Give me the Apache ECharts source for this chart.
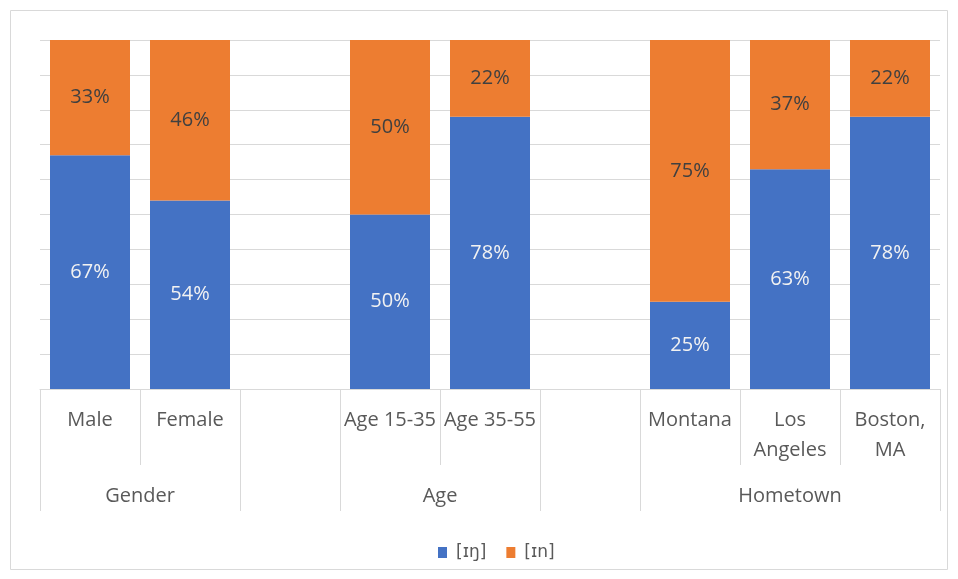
<!DOCTYPE html>
<html>

	<head>
		<meta charset="utf-8">
		<title>[ɪŋ] / [ɪn]</title>
		<style>
			body {
				margin: 0;
				background: #fff;
			}
		</style>
	</head>

	<body>
		<div id="chart" style="width: 958px; height: 579px;"></div>

		<script src="https://cdn.jsdelivr.net/npm/echarts@6/dist/echarts.min.js"></script>
		<script>
			// 类别（空字符串为分组之间的空位）
			var categories = ['Male', 'Female', '', 'Age 15-35', 'Age 35-55', '', 'Montana', 'Los\nAngeles', 'Boston,\nMA'];
			// 分组名称及其在类别轴上的中心位置
			var groupNames = ['Gender', 'Age', 'Hometown'];
			var groupCenters = [1, 4, 7.5];
			// 分组边界（长线）和组内边界（短线）
			var groupEdges = [0, 2, 3, 5, 6, 9];
			var innerEdges = [1, 4, 7, 8];
			var seriesNames = ['[ɪŋ]', '[ɪn]'];
			var ingValues = [67, 54, null, 50, 78, null, 25, 63, 78];
			var inValues = [33, 46, null, 50, 22, null, 75, 37, 22];

			var font = '"Open Sans", "DejaVu Sans", sans-serif';
			var gray = '#d9d9d9';

			// 只画刻度线的辅助轴
			function edgeAxis(values, len, labels, labelMargin) {
				return {
					type: 'value',
					position: 'bottom',
					min: 0,
					max: 9,
					axisLine: { show: false },
					splitLine: { show: false },
					axisTick: {
						customValues: values,
						length: len,
						lineStyle: { color: gray }
					},
					axisLabel: labels ? {
						customValues: groupCenters,
						margin: labelMargin,
						color: '#595959',
						fontSize: 20,
						formatter: function(v) {
							var i = groupCenters.indexOf(v);
							return i >= 0 ? groupNames[i] : '';
						}
					} : { show: false }
				};
			}

			var Chart = echarts.init(document.getElementById('chart'));
			var option = {
				animation: false,
				textStyle: {
					fontFamily: font
				},
				color: ['#4472C4', '#ED7D31'],
				graphic: [{
					type: 'rect',
					shape: { x: 10.5, y: 10.5, width: 937, height: 559 },
					style: { fill: 'none', stroke: gray, lineWidth: 1 },
					silent: true
				}],
				grid: {
					left: 40,
					right: 18,
					top: 40,
					bottom: 190
				},
				legend: {
					top: 539,
					left: 433,
					itemWidth: 9,
					itemHeight: 11,
					itemGap: 20,
					icon: 'rect',
					data: seriesNames,
					textStyle: {
						color: '#595959',
						fontSize: 17,
						padding: [0, 0, 0, 4],
						fontFamily: '"DejaVu Sans", sans-serif'
					}
				},
				xAxis: [{
						type: 'category',
						data: categories,
						axisLine: {
							lineStyle: { color: gray }
						},
						axisTick: { show: false },
						axisLabel: {
							interval: 0,
							margin: 16,
							color: '#595959',
							fontSize: 20,
							lineHeight: 30
						}
					},
					edgeAxis(groupEdges, 122, true, 97),
					edgeAxis(innerEdges, 76, false, 0)
				],
				yAxis: {
					type: 'value',
					min: 0,
					max: 100,
					interval: 10,
					axisLabel: { show: false },
					axisLine: { show: false },
					axisTick: { show: false },
					splitLine: {
						lineStyle: { color: gray }
					}
				},
				series: [{
						name: seriesNames[0],
						type: 'bar',
						stack: 'total',
						barWidth: '80%',
						data: ingValues,
						label: {
							show: true,
							formatter: '{c}%',
							color: '#f2f2f2',
							fontSize: 20
						}
					},
					{
						name: seriesNames[1],
						type: 'bar',
						stack: 'total',
						barWidth: '80%',
						data: inValues,
						label: {
							show: true,
							formatter: '{c}%',
							color: '#404040',
							fontSize: 20
						}
					}
				]
			};
			Chart.setOption(option);
		</script>
	</body>

</html>
